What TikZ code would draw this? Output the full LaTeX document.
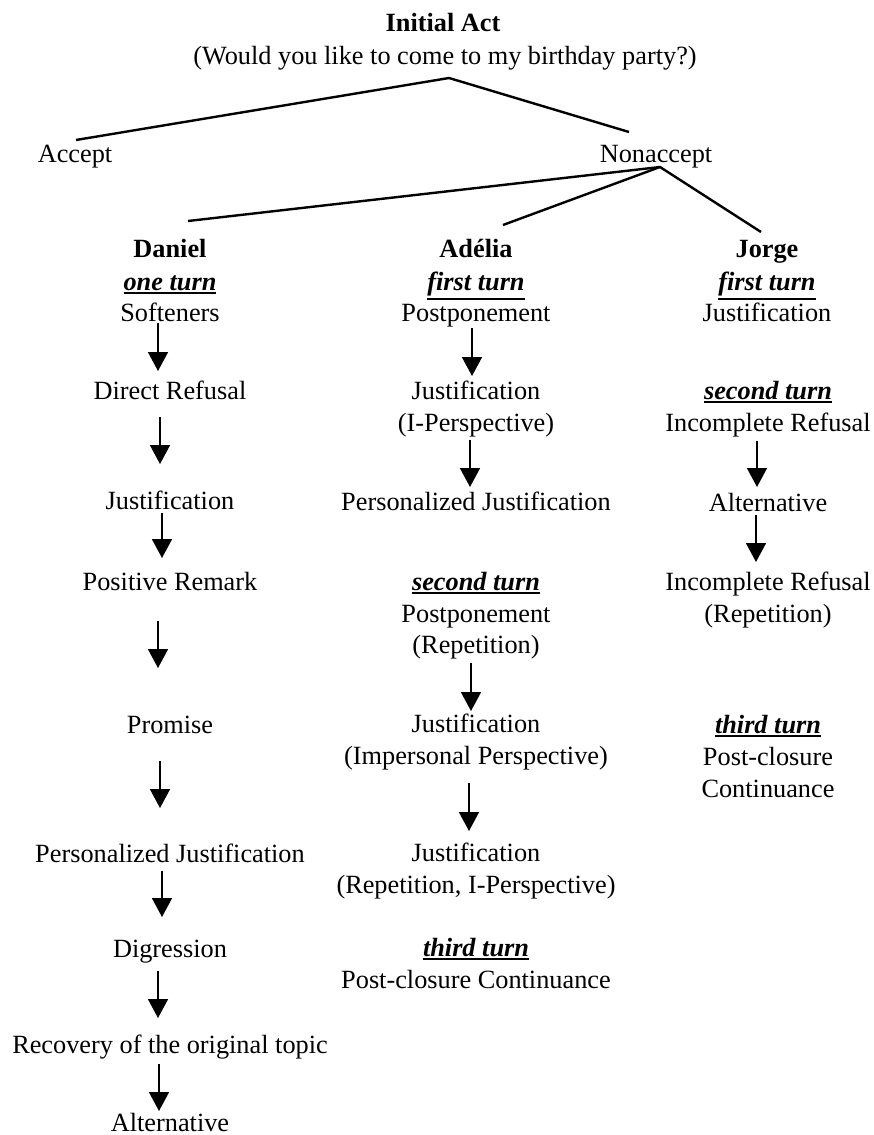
\documentclass[tikz,border=0pt]{standalone}
\usepackage{fontspec}
\setmainfont{Liberation Serif}
\usetikzlibrary{arrows.meta}
\newcommand\turnlabel[1]{\leavevmode\vtop{\hbox{\bfseries\itshape #1}\kern2pt\hrule height 1.9pt}}
\begin{document}
\begin{tikzpicture}[x=1pt,y=-1pt,
  txt/.style={anchor=base,inner sep=0pt,font=\fontsize{26.3}{31}\selectfont},
  btxt/.style={txt,font=\fontsize{26.3}{31}\selectfont\bfseries},
  tree/.style={line width=2.4pt},
  arr/.style={line width=1.7pt,-{Triangle[width=20pt,length=19pt]}}]
\useasboundingbox (0,0) rectangle (874,1135);
% top
\node[btxt] (init) at (443,31) {Initial Act};
\node[txt] (question) at (445,64) {(Would you like to come to my birthday party?)};
\node[txt] (accept) at (75,162) {Accept};
\node[txt] (nonacc) at (656,162) {Nonaccept};
\coordinate (qfoot) at (449,78);
\coordinate (accTop) at (76,140);
\coordinate (nonTop) at (629,132);
\coordinate (nonFoot) at (660,167);
\coordinate (danTop) at (188,221);
\coordinate (adeTop) at (503,225);
\coordinate (jorTop) at (761,232);
\draw[tree] (accTop) -- (qfoot) -- (nonTop);
\draw[tree] (danTop) -- (nonFoot) -- (jorTop);
\draw[tree] (nonFoot) -- (adeTop);
% Daniel
\node[btxt] (dan) at (170,257) {Daniel};
\node[txt] (dTurn) at (170,290) {\turnlabel{one turn}};
\node[txt] (dSoft) at (170,321) {Softeners};
\node[txt] (dDir) at (170,399) {Direct Refusal};
\node[txt] (dJust) at (170,509) {Justification};
\node[txt] (dPos) at (170,590) {Positive Remark};
\node[txt] (dProm) at (170,733) {Promise};
\node[txt] (dPers) at (170,862) {Personalized Justification};
\node[txt] (dDigr) at (170,957) {Digression};
\node[txt] (dRec) at (170,1053) {Recovery of the original topic};
\node[txt] (dAlt) at (170,1131) {Alternative};
\draw[arr] ([xshift=-12pt,yshift=-2pt]dSoft.base) -- ([xshift=-12pt,yshift=28pt]dDir.base);
\draw[arr] ([xshift=-10pt,yshift=-18pt]dDir.base) -- ([xshift=-10pt,yshift=45pt]dJust.base);
\draw[arr] ([xshift=-8pt,yshift=-4pt]dJust.base) -- ([xshift=-8pt,yshift=32pt]dPos.base);
\draw[arr] ([xshift=-12pt,yshift=-31pt]dPos.base) -- ([xshift=-12pt,yshift=65pt]dProm.base);
\draw[arr] ([xshift=-10pt,yshift=-28pt]dProm.base) -- ([xshift=-10pt,yshift=54pt]dPers.base);
\draw[arr] ([xshift=-8pt,yshift=-9pt]dPers.base) -- ([xshift=-8pt,yshift=40pt]dDigr.base);
\draw[arr] ([xshift=-12pt,yshift=-14pt]dDigr.base) -- ([xshift=-12pt,yshift=35pt]dRec.base);
\draw[arr] ([xshift=-11pt,yshift=-11pt]dRec.base) -- ([xshift=-11pt,yshift=20pt]dAlt.base);
% Adelia
\node[btxt] (ade) at (476,257) {Adélia};
\node[txt] (aTurn1) at (476,290) {\turnlabel{first turn}};
\node[txt] (aPost) at (476,321) {Postponement};
\node[txt] (aJust) at (476,399) {Justification};
\node[txt] (aJustB) at (476,431) {(I-Perspective)};
\node[txt] (aPers) at (476,510) {Personalized Justification};
\node[txt] (aTurn2) at (476,590) {\turnlabel{second turn}};
\node[txt] (aPost2) at (476,622) {Postponement};
\node[txt] (aPost2B) at (476,653) {(Repetition)};
\node[txt] (aJust2) at (476,732) {Justification};
\node[txt] (aJust2B) at (476,764) {(Impersonal Perspective)};
\node[txt] (aJust3) at (476,861) {Justification};
\node[txt] (aJust3B) at (476,893) {(Repetition, I-Perspective)};
\node[txt] (aTurn3) at (476,956) {\turnlabel{third turn}};
\node[txt] (aPostC) at (476,988) {Post-closure Continuance};
\draw[arr] ([xshift=-4pt,yshift=-7pt]aPost.base) -- ([xshift=-4pt,yshift=23pt]aJust.base);
\draw[arr] ([xshift=-6pt,yshift=-9pt]aJustB.base) -- ([xshift=-6pt,yshift=23pt]aPers.base);
\draw[arr] ([xshift=-5pt,yshift=-10pt]aPost2B.base) -- ([xshift=-5pt,yshift=21pt]aJust2.base);
\draw[arr] ([xshift=-7pt,yshift=-19pt]aJust2B.base) -- ([xshift=-7pt,yshift=30pt]aJust3.base);
% Jorge
\node[btxt] (jor) at (767,257) {Jorge};
\node[txt] (jTurn1) at (767,290) {\turnlabel{first turn}};
\node[txt] (jJust) at (767,321) {Justification};
\node[txt] (jTurn2) at (768,399) {\turnlabel{second turn}};
\node[txt] (jInc) at (768,431) {Incomplete Refusal};
\node[txt] (jAlt) at (768,511) {Alternative};
\node[txt] (jInc2) at (768,590) {Incomplete Refusal};
\node[txt] (jInc2B) at (768,622) {(Repetition)};
\node[txt] (jTurn3) at (768,733) {\turnlabel{third turn}};
\node[txt] (jPost) at (768,765) {Post-closure};
\node[txt] (jCont) at (768,797) {Continuance};
\draw[arr] ([xshift=-11pt,yshift=-10pt]jInc.base) -- ([xshift=-11pt,yshift=24pt]jAlt.base);
\draw[arr] ([xshift=-12pt,yshift=-4pt]jAlt.base) -- ([xshift=-12pt,yshift=28pt]jInc2.base);
\end{tikzpicture}
\end{document}
